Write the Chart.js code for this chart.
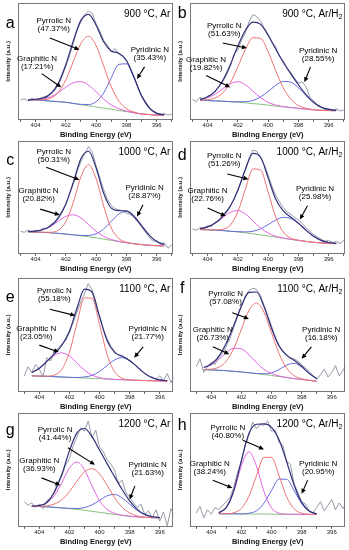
<!DOCTYPE html>
<html>
<head>
<meta charset="utf-8">
<script src="https://cdn.jsdelivr.net/npm/chart.js@4.4.0/dist/chart.umd.min.js"></script>
<style>
  html, body { margin: 0; padding: 0; background: #fff; }
  #fig { position: relative; width: 349px; height: 550px; overflow: hidden; background: #fff; }
  #fig canvas { position: absolute; }
</style>
</head>
<body>
<div id="fig"></div>
<script>
// binding energies (eV)
const xFit = [404.5, 404, 403.5, 403, 402.5, 402, 401.5, 401, 400.5, 400, 399.5, 399, 398.5, 398, 397.5, 397, 396.5, 396, 395.5];
const xRaw = [405, 404.75, 404.5, 404.25, 404, 403.75, 403.5, 403.25, 403, 402.75, 402.5, 402.25, 402, 401.75, 401.5, 401.25, 401, 400.75, 400.5, 400.25,
  400, 399.75, 399.5, 399.25, 399, 398.75, 398.5, 398.25, 398, 397.75, 397.5, 397.25, 397, 396.75, 396.5, 396.25, 396, 395.75, 395.5, 395.25, 395];

// a: 900 C, Ar
const rawA = [17, 18, 16, 18.5, 17, 18, 19.5, 19, 23, 25, 30, 37, 46, 55, 66, 77, 84, 90, 93, 91, 82, 76, 68, 64, 58, 61, 56, 55, 50, 44, 37, 28, 21, 16, 11, 8, 6, 4, 5.5, 4, 5];
const envA = [17, 17.6, 18.7, 22.3, 31.2, 47.3, 67.8, 85.3, 90.3, 81, 66.8, 59, 57, 51, 36.6, 20.5, 10.2, 5.5, 4.3];
const pyrrolicA = [17, 17, 17.2, 18.6, 23.5, 34.3, 50.1, 65.5, 71.5, 63.5, 46.1, 28.3, 16, 9.6, 6.7, 5, 4.5, 4, 4];
const graphiticA = [17, 17.5, 18, 19.7, 23.2, 28, 31.7, 32.6, 29.7, 24, 17.7, 12.7, 9.5, 7.5, 6, 5, 4.5, 4, 4];
const pyridinicA = [17, 17, 16.5, 16, 15.5, 15, 14, 13.2, 13.1, 15.5, 23, 36, 47.5, 47.9, 35.9, 20.5, 10.2, 5.5, 4.3];
const baseA = [17, 17, 16.5, 16, 15.5, 15, 14, 13, 12, 11, 10, 9, 8, 7, 6, 5, 4.5, 4, 4];

// b: 900 C, Ar/H2
const rawB = [17.5, 15.5, 19.5, 16.5, 20.5, 21.5, 24.5, 28.5, 32.5, 38.5, 45.5, 56.5, 59.5, 68.5, 74.5, 84.5, 90, 88.5, 84.5, 78.5, 73.5, 66.5, 62.5, 54.5, 50.5, 44.5, 40.5, 35.5, 31.5, 32.5, 28.5, 19.5, 16.5, 12.5, 11.5, 8.5, 9.5, 7.5, 9.5, 7.5, 8.5];
const envB = [17.5, 19.7, 24.4, 33.6, 47.2, 63.2, 76.7, 83.6, 81.7, 72.4, 60.6, 49.3, 39.3, 30, 21.6, 15, 10.8, 8.9, 8.1];
const pyrrolicB = [16.7, 17.3, 18.7, 23, 31.8, 45.4, 60.3, 70.3, 69.7, 58.3, 42.1, 27.4, 17.6, 12.3, 9.9, 8.7, 8.1, 7.9, 7.8];
const graphiticB = [17.3, 18.9, 21.9, 26.5, 30.9, 32.6, 29.9, 24.5, 19, 14.9, 12.6, 11.3, 10.5, 9.8, 9.1, 8.5, 8.1, 7.9, 7.8];
const pyridinicB = [16.5, 16.5, 16.2, 15.9, 15.5, 15.4, 15.5, 16.6, 19.6, 24.2, 29.5, 32.8, 32.2, 27.5, 20.8, 14.8, 10.8, 8.9, 8.1];
const baseB = [16.5, 16.5, 16.2, 15.9, 15.5, 15.1, 14.5, 13.9, 13.3, 12.5, 11.8, 11.1, 10.5, 9.8, 9.1, 8.5, 8.1, 7.9, 7.8];

// c: 1000 C, Ar
const rawC = [20, 19, 21, 19, 21, 20, 23, 22, 26, 28, 33, 38, 44, 53, 62, 73, 82, 89, 95, 90, 78, 67, 57, 48, 43, 40, 39, 38, 36, 35, 32, 28, 24, 19, 15, 11, 12, 8, 10, 5, 8];
const envC = [19.7, 20.1, 21.5, 24.9, 31.7, 44.2, 63.8, 84.5, 90.9, 76.1, 53.6, 40.5, 38.2, 38, 33.3, 25, 16.6, 10.9, 8.2];
const pyrrolicC = [19.5, 19.3, 19.1, 19.1, 20.9, 28.5, 46, 68.5, 78.9, 66.6, 42.2, 22.9, 13.6, 10.3, 8.9, 8.2, 7.6, 7.2, 7];
const graphiticC = [19.7, 20.1, 21.4, 24.4, 28.9, 33.2, 34.6, 31.7, 25.9, 19.9, 15.4, 12.7, 11, 9.8, 8.9, 8.2, 7.6, 7.2, 7];
const pyridinicC = [19.5, 19.3, 19, 18.6, 18.1, 17.5, 16.8, 16.3, 16.3, 17.8, 22, 28.7, 35.2, 37.5, 33.3, 25, 16.6, 10.9, 8.2];
const baseC = [19.5, 19.3, 19, 18.6, 18.1, 17.5, 16.8, 16, 15.1, 14.1, 13, 11.9, 10.8, 9.8, 8.9, 8.2, 7.6, 7.2, 7];

// d: 1000 C, Ar/H2
const rawD = [22, 21, 23, 22, 25, 24, 28, 29, 35, 38, 43, 48, 57, 65, 75, 85, 92, 91, 85, 79, 70, 60, 52, 46, 41, 37, 35, 32, 30, 27, 23, 20, 17, 15, 13, 11, 12, 10, 11, 9, 12];
const envD = [22.3, 23.9, 27.3, 33.2, 42.2, 56.3, 75, 89, 85.8, 67.3, 48.5, 38, 32.4, 27.2, 21, 15.6, 11.9, 10, 9.2];
const pyrrolicD = [21.5, 21.3, 21.2, 21.7, 25.5, 37.2, 57.5, 75.2, 74.3, 54.7, 32.6, 19.3, 13.9, 12.1, 11, 10.2, 9.6, 9.2, 9];
const graphiticD = [22.3, 23.9, 27.1, 32.1, 36.7, 38.3, 35.3, 29.2, 22.9, 18.4, 15.6, 14, 12.8, 11.9, 11, 10.2, 9.6, 9.2, 9];
const pyridinicD = [21.5, 21.3, 21, 20.6, 20, 19.6, 19.4, 20, 22.2, 25.8, 29.9, 32.3, 31.3, 27, 21, 15.6, 11.9, 10, 9.2];
const baseD = [21.5, 21.3, 21, 20.6, 20, 19.4, 18.6, 17.7, 16.8, 15.8, 14.8, 13.8, 12.8, 11.9, 11, 10.2, 9.6, 9.2, 9];

// e: 1100 C, Ar
const rawE = [14, 22, 17, 24, 20, 13, 30, 27, 36, 38, 42, 45, 52, 61, 70, 79, 86, 95, 90, 76, 66, 55, 47, 40, 36, 32, 31, 30, 27, 25, 22, 19, 16, 14, 13, 11, 14, 10, 16, 8, 15];
const envE = [16.9, 20.7, 26.7, 33.4, 40.9, 53.2, 73.2, 90.3, 87.7, 66.4, 45, 34.7, 31.4, 27.6, 21.9, 16.2, 12.3, 10.5, 9.7];
const pyrrolicE = [14, 13.8, 13.8, 14.7, 19.7, 34.5, 60.1, 82.5, 82.2, 59.2, 33, 17.6, 12, 10.5, 10.1, 9.9, 9.7, 9.6, 9.5];
const graphiticE = [16.9, 20.7, 26.5, 32, 34.2, 31.4, 25.3, 19, 14.7, 12.4, 11.4, 10.9, 10.6, 10.3, 10.1, 9.9, 9.7, 9.6, 9.5];
const pyridinicE = [14, 13.8, 13.6, 13.3, 13, 12.7, 12.6, 13, 14.4, 17.8, 23, 28, 30, 27.4, 21.9, 16.2, 12.3, 10.5, 9.7];
const baseE = [14, 13.8, 13.6, 13.3, 13, 12.7, 12.4, 12.1, 11.8, 11.5, 11.2, 10.9, 10.6, 10.3, 10.1, 9.9, 9.7, 9.6, 9.5];

// f: 1100 C, Ar/H2
const rawF = [22, 29, 17, 22, 26, 24, 30, 34, 40, 47, 57, 66, 75, 84, 89, 91, 90, 85, 76, 67, 58, 48, 41, 36, 33, 30, 29, 27, 24, 21, 18, 14, 11, 15, 20, 13, 17, 23, 14, 19, 24];
const envF = [21.3, 24.4, 31.2, 42.8, 58.5, 75.3, 87.3, 87.7, 75, 55.9, 40.2, 32, 27.7, 22.5, 16.2, 11.6, null, null, null];
const pyrrolicF = [19.6, 19.9, 21.6, 26.9, 38.2, 55, 71.4, 78, 69.9, 51.9, 33.6, 20.9, 14.3, 11.5, 10.1, 9.3, null, null, null];
const graphiticF = [21.2, 23.7, 28.5, 34.4, 38.3, 37.7, 32.6, 25.6, 19.7, 16, 13.9, 12.6, 11.6, 10.8, 10, 9.3, null, null, null];
const pyridinicF = [19.5, 19.2, 18.9, 18.5, 18, 17.4, 16.7, 16.1, 15.8, 16.6, 19.5, 23.5, 25, 21.8, 16.1, 11.6, null, null, null];
const baseF = [19.5, 19.2, 18.9, 18.5, 18, 17.4, 16.7, 16, 15.2, 14.3, 13.4, 12.5, 11.6, 10.8, 10, 9.3, null, null, null];

// g: 1200 C, Ar
const rawG = [22, 19, 21, 17, 20, 16, 23, 25, 31, 40, 45, 54, 60, 71, 79, 87, 84, 93, 78, 85, 70, 66, 59, 55, 50, 38, 41, 30, 26, 21, 17, 20, 11, 14, 8, 15, 5, 13, 1, 16, 9];
const envG = [18.2, 18.7, 21.4, 30.4, 46.2, 66.7, 82.5, 86.4, 79.2, 67.5, 55.5, 44.1, 32.8, 22.8, 15.3, 10.9, 8.8, 8.1, null];
const pyrrolicG = [18, 18, 18.4, 20, 23.8, 30.8, 40.1, 48.3, 51.1, 46.5, 36.6, 25.7, 17.2, 12.2, 9.6, 8.5, 8, 7.9, null];
const graphiticG = [18.2, 18.7, 21, 27.5, 39, 51.7, 56.9, 50.2, 36, 23.1, 15.3, 11.8, 10.2, 9.3, 8.7, 8.3, 8, 7.9, null];
const pyridinicG = [18, 17.8, 17.5, 17.1, 16.6, 16.2, 16.1, 16.9, 19.3, 23.3, 27.2, 28.4, 25.4, 19.9, 14.4, 10.7, 8.8, 8.1, null];
const baseG = [18, 17.8, 17.5, 17.1, 16.6, 16, 15.3, 14.5, 13.6, 12.7, 11.8, 10.9, 10, 9.3, 8.7, 8.3, 8, 7.9, null];

// h: 1200 C, Ar/H2
const rawH = [12, 18, 8, 15, 11, 17, 15, 19, 22, 26, 35, 48, 57, 72, 80, 92, 86, 90, 89, 93, 84, 85, 74, 72, 58, 55, 38, 30, 22, 20, 14, 12, 17, 22, 14, 19, 24, 15, 21, 16, 22];
const envH = [null, null, 12.4, 17, 32.1, 58.4, 82, 90.1, 90.4, 87.4, 76.5, 57.4, 36.7, 21.5, 13.9, 11.4, null, null, null];
const pyrrolicH = [null, null, 11.5, 11.5, 12.4, 16.1, 26.8, 44.9, 61.1, 61, 44.8, 26.5, 15.8, 11.9, 11, 10.8, null, null, null];
const graphiticH = [null, null, 12.4, 16.9, 31.1, 53.6, 65.9, 53.5, 30.9, 16.6, 12, 11.1, 11, 10.9, 10.9, 10.8, null, null, null];
const pyridinicH = [null, null, 11.5, 11.4, 11.4, 11.3, 11.9, 14.1, 20.8, 32, 41.9, 41.8, 31.9, 20.5, 13.8, 11.4, null, null, null];
const baseH = [null, null, 11.5, 11.4, 11.4, 11.3, 11.3, 11.2, 11.2, 11.1, 11.1, 11, 11, 10.9, 10.9, 10.8, null, null, null];

const letters = ['a', 'b', 'c', 'd', 'e', 'f', 'g', 'h'];
const conditions = ['900 °C, Ar', '900 °C, Ar/H2', '1000 °C, Ar', '1000 °C, Ar/H2', '1100 °C, Ar', '1100 °C, Ar/H2', '1200 °C, Ar', '1200 °C, Ar/H2'];
const pyrrolicPct = ['47.37%', '51.63%', '50.31%', '51.26%', '55.18%', '57.08%', '41.44%', '40.80%'];
const graphiticPct = ['17.21%', '19.82%', '20.82%', '22.76%', '23.05%', '26.73%', '36.93%', '38.24%'];
const pyridinicPct = ['35.43%', '28.55%', '28.87%', '25.98%', '21.77%', '16.18%', '21.63%', '20.95%'];
const xTicks = [395, 396, 397, 398, 399, 400, 401, 402, 403, 404, 405];

const series = [
  [rawA, envA, pyrrolicA, graphiticA, pyridinicA, baseA],
  [rawB, envB, pyrrolicB, graphiticB, pyridinicB, baseB],
  [rawC, envC, pyrrolicC, graphiticC, pyridinicC, baseC],
  [rawD, envD, pyrrolicD, graphiticD, pyridinicD, baseD],
  [rawE, envE, pyrrolicE, graphiticE, pyridinicE, baseE],
  [rawF, envF, pyrrolicF, graphiticF, pyridinicF, baseF],
  [rawG, envG, pyrrolicG, graphiticG, pyridinicG, baseG],
  [rawH, envH, pyrrolicH, graphiticH, pyridinicH, baseH]
];

// where the labels and arrows sit, in axis units (eV, % of height)
const place = [
  { dy: 25, pyr: [[402.8, 84.8], [403.05, 70], [401.1, 60]], gra: [[403.9, 52], [403.6, 39.5], [402.3, 27.8]], pyd: [[396.45, 60], [396.8, 45.3], [397.3, 35]] },
  { dy: 15, pyr: [[402.9, 80.4], [403, 65.8], [401.4, 61.4]], gra: [[404.1, 51.2], [404.1, 38], [402.5, 27.8]], pyd: [[396.7, 59], [397.2, 45.3], [397.6, 32.2]] },
  { dy: 24, pyr: [[402.8, 90.3], [403.3, 76.7], [401.1, 65.6]], gra: [[403.8, 55.6], [403.7, 39.6], [402.4, 34.4]], pyd: [[396.8, 58.6], [396.9, 43.5], [397.3, 33]] },
  { dy: 19, pyr: [[402.9, 87.3], [402.7, 70.7], [401.3, 66.2]], gra: [[404, 55.6], [404, 40.5], [402.8, 33.5]], pyd: [[396.9, 57.7], [397.4, 42.6], [397.9, 30.5]] },
  { dy: 24, pyr: [[403, 88.9], [403.3, 72.5], [401.6, 67]], gra: [[404.2, 55], [404, 41], [402.7, 35]], pyd: [[396.8, 55], [397.1, 39.5], [397.7, 30]] },
  { dy: 15, pyr: [[403.05, 86], [402.6, 69.5], [401.5, 64]], gra: [[403.9, 54.5], [403.9, 39.5], [402.8, 33]], pyd: [[396.7, 54.5], [397.35, 39.5], [398, 29]] },
  { dy: 22, pyr: [[402.95, 85], [402.1, 69.5], [400.3, 54.5]], gra: [[404, 58], [403.85, 43], [402.6, 36.5]], pyd: [[396.8, 54.5], [397.65, 36], [398, 24]] },
  { dy: 17, pyr: [[402.9, 87.4], [401.9, 76], [400.5, 68]], gra: [[404.1, 55], [403.9, 41], [402.6, 34]], pyd: [[396.9, 55], [397.6, 41], [398, 29]] }
];

const rowTop = [0, 138, 275, 410];
const rowH = [141, 137, 138, 138];
const rowRange = [[394.9, 405.15], [394.9, 405.15], [395.1, 405.4], [395.1, 405.4]];
const colLeft = [0, 172];

const FONT = '"Liberation Sans", Arial, sans-serif';
const colors = {
  raw: '#8b8e9f', env: '#2f3078', pyr: '#ef7272', gra: '#e262e2', pyd: '#6468dc', base: '#85c37a'
};

function pts(xs, ys) {
  return xs.map((x, i) => ({ x: x, y: ys[i] }));
}

function arrow(ctx, x1, y1, x2, y2) {
  const a = Math.atan2(y2 - y1, x2 - x1);
  const h = 5, w = 2.3;
  ctx.beginPath();
  ctx.moveTo(x1, y1);
  ctx.lineTo(x2 - Math.cos(a) * h * 0.8, y2 - Math.sin(a) * h * 0.8);
  ctx.stroke();
  ctx.beginPath();
  ctx.moveTo(x2, y2);
  ctx.lineTo(x2 - h * Math.cos(a) + w * Math.sin(a), y2 - h * Math.sin(a) - w * Math.cos(a));
  ctx.lineTo(x2 - h * Math.cos(a) - w * Math.sin(a), y2 - h * Math.sin(a) + w * Math.cos(a));
  ctx.closePath();
  ctx.fill();
}

// frame, panel letter, condition and peak labels
const decor = {
  id: 'decor',
  afterDatasetsDraw(chart, args, o) {
    const { ctx, chartArea: ca, scales: { x, y } } = chart;
    ctx.save();
    ctx.strokeStyle = '#777';
    ctx.lineWidth = 1;
    ctx.strokeRect(Math.round(ca.left) + 0.5, Math.round(ca.top) + 0.5, Math.round(ca.width) - 1, Math.round(ca.height) - 1);

    ctx.fillStyle = '#000';
    ctx.textAlign = 'center';
    ctx.textBaseline = 'alphabetic';
    ctx.font = '16px ' + FONT;
    ctx.fillText(o.letter, ca.left - 8, ca.top + o.dy);

    // condition, with subscript 2 for H2
    ctx.textBaseline = 'middle';
    ctx.textAlign = 'right';
    const right = ca.right - 3, cy = ca.top + 11;
    let txt = o.cond;
    if (txt.endsWith('H2')) {
      ctx.font = '7px ' + FONT;
      const sw = ctx.measureText('2').width;
      ctx.fillText('2', right, cy + 3);
      txt = txt.slice(0, -1);
      ctx.font = '10px ' + FONT;
      ctx.fillText(txt, right - sw, cy);
    } else {
      ctx.font = '10px ' + FONT;
      ctx.fillText(txt, right, cy);
    }

    ctx.textAlign = 'center';
    ctx.font = '8px ' + FONT;
    ctx.lineWidth = 1.1;
    ctx.strokeStyle = '#000';
    o.labels.forEach(l => {
      const px = x.getPixelForValue(l.p[0][0]), py = y.getPixelForValue(l.p[0][1]);
      ctx.fillText(l.name, px, py);
      ctx.fillText('(' + l.pct + ')', px, py + 8);
      arrow(ctx, x.getPixelForValue(l.p[1][0]), y.getPixelForValue(l.p[1][1]),
        x.getPixelForValue(l.p[2][0]), y.getPixelForValue(l.p[2][1]));
    });
    ctx.restore();
  }
};

const fig = document.getElementById('fig');

series.forEach((s, i) => {
  const row = Math.floor(i / 2), col = i % 2;
  const cv = document.createElement('canvas');
  cv.width = 175;
  cv.height = rowH[row];
  cv.style.left = colLeft[col] + 'px';
  cv.style.top = rowTop[row] + 'px';
  cv.style.width = '175px';
  cv.style.height = rowH[row] + 'px';
  fig.appendChild(cv);

  const fitLine = (data, color, w) => ({
    data: pts(xFit, data), borderColor: color, borderWidth: w,
    cubicInterpolationMode: 'monotone', spanGaps: false
  });

  new Chart(cv, {
    type: 'line',
    data: {
      datasets: [
        fitLine(s[1], colors.env, 1.2),
        { data: pts(xRaw, s[0]), borderColor: colors.raw, borderWidth: 0.9, tension: 0 },
        fitLine(s[2], colors.pyr, 1),
        fitLine(s[3], colors.gra, 1),
        fitLine(s[4], colors.pyd, 1),
        fitLine(s[5], colors.base, 1)
      ]
    },
    options: {
      responsive: false,
      animation: false,
      devicePixelRatio: 1,
      parsing: false,
      elements: { point: { radius: 0 } },
      layout: { padding: { left: 5, right: 1.7, top: 3, bottom: 1 } },
      plugins: {
        legend: { display: false },
        tooltip: { enabled: false },
        decor: {
          letter: letters[i],
          cond: conditions[i],
          dy: place[i].dy,
          labels: [
            { name: 'Pyrrolic N', pct: pyrrolicPct[i], p: place[i].pyr },
            { name: 'Graphitic N', pct: graphiticPct[i], p: place[i].gra },
            { name: 'Pyridinic N', pct: pyridinicPct[i], p: place[i].pyd }
          ]
        }
      },
      scales: {
        x: {
          type: 'linear',
          reverse: true,
          min: rowRange[row][0],
          max: rowRange[row][1],
          afterBuildTicks: ax => {
            ax.ticks = xTicks.filter(v => v >= ax.min && v <= ax.max).map(v => ({ value: v }));
          },
          ticks: {
            autoSkip: false, maxRotation: 0, padding: 0, color: '#222',
            font: { family: FONT, size: 6 },
            callback: v => (v % 2 === 0 && v > 395 && v < 405) ? String(v) : ''
          },
          grid: { drawOnChartArea: false, drawTicks: true, tickLength: 2, color: '#555' },
          border: { display: false },
          title: {
            display: true, text: 'Binding Energy (eV)', color: '#111',
            font: { family: FONT, size: 7.5, weight: 'bold' }, padding: { top: 1, bottom: 1 }
          }
        },
        y: {
          min: 0, max: 100,
          ticks: { display: false },
          grid: { display: false, drawTicks: false },
          border: { display: false },
          title: {
            display: true, text: 'Intensity (a.u.)', color: '#111',
            font: { family: FONT, size: 6, weight: 'bold' }, padding: { top: 0, bottom: 6 }
          }
        }
      }
    },
    plugins: [decor]
  });
});
</script>
</body>
</html>
